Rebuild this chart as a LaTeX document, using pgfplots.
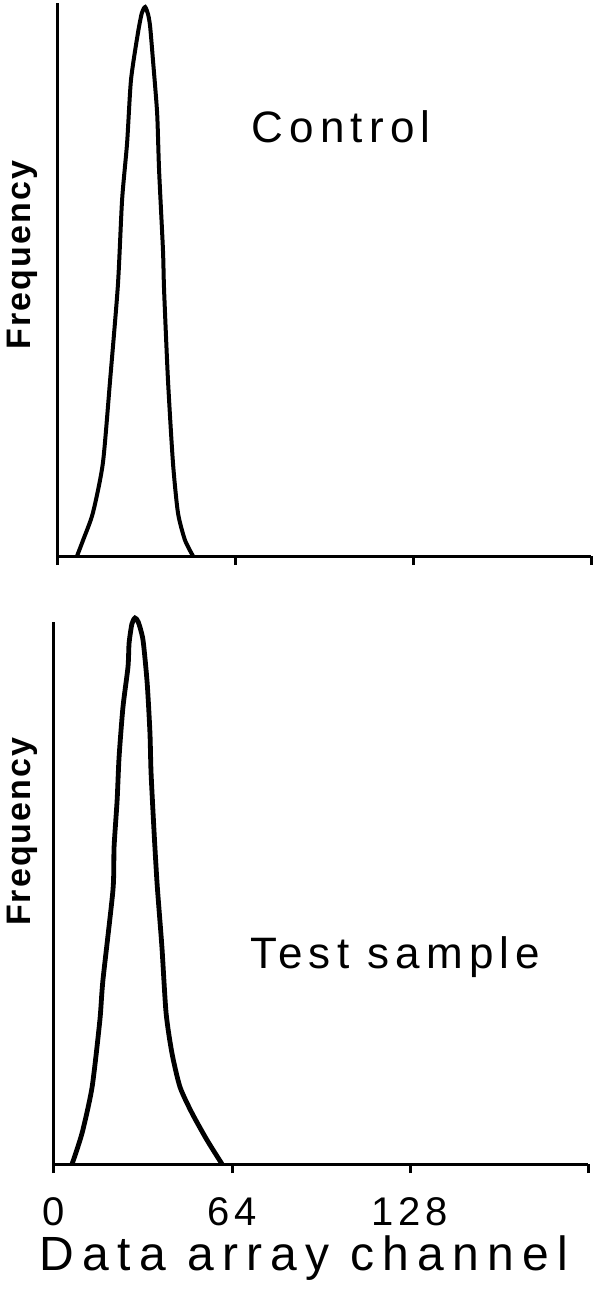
\documentclass[border=0pt]{standalone}
\usepackage{pgfplots}
\pgfplotsset{compat=1.18}
\usepackage{fontspec}
\setmainfont{Liberation Sans}
\newfontfamily\lsA[LetterSpace=14]{Liberation Sans}
\newfontfamily\lsB[LetterSpace=17]{Liberation Sans}
\newfontfamily\lsC[LetterSpace=12]{Liberation Sans}
\newfontfamily\lsF[LetterSpace=6]{Liberation Sans}
\begin{document}
\begin{tikzpicture}
\useasboundingbox (0,0) rectangle (300pt,-644.5pt);
\pgfplotsset{
  histo/.style={
    scale only axis, width=267pt,
    xmin=0, xmax=192, ymin=0,
    axis x line=bottom, axis y line=left,
    axis line style={-, line width=1.5pt, black},
    ytick=\empty,
    xtick={0,64,128,192},
    tick align=outside,
    major tick length=4.5pt,
    tick style={line width=1.5pt, black},
    clip=false,
  }
}
% Top panel: Control
\begin{axis}[histo, at={(28.5pt,-278pt)}, anchor=south west, height=276.5pt, ymax=553,
  xticklabels={},
  ylabel={\lsF\bfseries\fontsize{17}{20}\selectfont Frequency},
  every axis y label/.style={at={(axis description cs:-0.0655,0.544)}, rotate=90, anchor=center}]
\addplot[black, line width=2pt, smooth, tension=0.4] coordinates {
(7.2,0) (9.4,16) (12.9,43) (16.5,93) (19.1,176) (21.9,271) (23.4,356) (25.2,413)
(26.6,476) (29.1,523) (30.5,543) (31.7,549) (32.8,541) (33.5,529) (34.5,496) (36.0,443)
(36.7,386) (38.1,306) (38.5,266) (39.9,176) (41.7,93) (43.5,43) (46.0,16) (48.9,0)
};
\node[font=\lsA\fontsize{22}{26}\selectfont] at (axis description cs:0.532,0.776) {Control};
\end{axis}
% Bottom panel: Test sample
\begin{axis}[histo, at={(27pt,-582pt)}, anchor=south west, height=271pt, ymax=542,
  xticklabels={0,64,128,{}},
  xticklabel style={font=\lsC\fontsize{20}{23}\selectfont, anchor=base, inner sep=0pt, yshift=-26pt},
  xlabel={\lsB\fontsize{24}{28}\selectfont Data array channel},
  every axis x label/.style={at={(axis description cs:0.468,0)}, anchor=base, inner sep=0pt, yshift=-53pt},
  ylabel={\lsF\bfseries\fontsize{17}{20}\selectfont Frequency},
  every axis y label/.style={at={(axis description cs:-0.06,0.613)}, rotate=90, anchor=center}]
\addplot[black, line width=2.4pt, smooth, tension=0.4] coordinates {
(6.5,0) (10.1,31) (13.7,77) (16.5,144) (17.6,184) (21.2,274) (21.6,317) (22.7,364)
(23.4,407) (24.8,457) (26.6,497) (27.0,521) (28.0,540) (29.1,546) (30.3,542) (32.0,524)
(33.5,481) (34.5,431) (34.9,391) (36.0,331) (37.1,279) (38.8,217) (40.3,151) (42.4,111)
(45.3,77) (49.6,51) (55.0,24) (60.4,0)
};
\node[font=\lsA\fontsize{22}{26}\selectfont] at (axis description cs:0.639,0.382) {Test sample};
\end{axis}
\end{tikzpicture}
\end{document}
